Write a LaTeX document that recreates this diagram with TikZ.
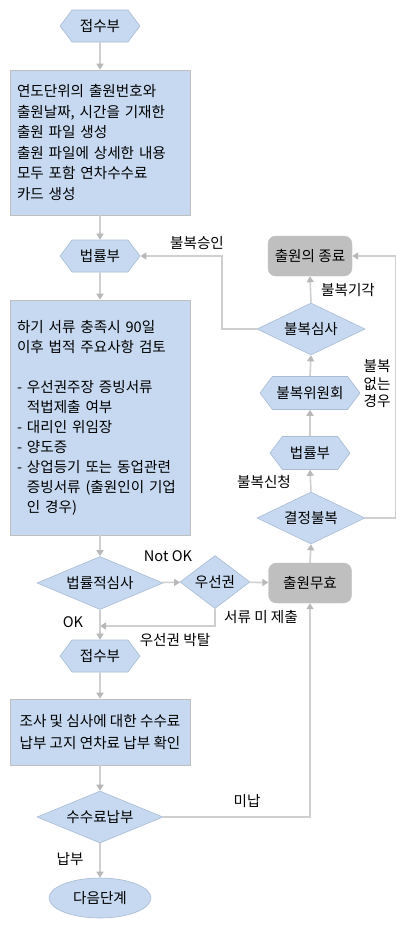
\documentclass[tikz,border=0pt]{standalone}
\usepackage{fontspec}
\setmainfont{Noto Sans CJK KR}
\usetikzlibrary{shapes.geometric,shapes.symbols,arrows.meta}
\definecolor{fillblue}{HTML}{C6D9F0}
\definecolor{edgeblue}{HTML}{A9BCD2}
\definecolor{boxgray}{HTML}{BFBFBF}
\definecolor{linegray}{HTML}{CFCFCF}
\definecolor{tipgray}{HTML}{B8B8B8}
\tikzset{
  base/.style={font=\fontsize{14.6}{20.5}\selectfont, text=black},
  hexa/.style={base, signal, signal to=east and west, signal pointer angle=106, fill=fillblue, draw=edgeblue, line width=0.6pt, minimum width=80pt, minimum height=32pt, inner sep=0pt},
  dia/.style={base, diamond, fill=fillblue, draw=edgeblue, line width=0.6pt, inner sep=0pt},
  procbox/.style={base, rectangle, fill=fillblue, draw=boxgray, line width=0.6pt, align=left, inner xsep=8pt},
  grbox/.style={base, rectangle, rounded corners=8pt, fill=boxgray, draw=boxgray, minimum width=84pt, minimum height=40pt},
  ell/.style={base, ellipse, fill=fillblue, draw=edgeblue, line width=0.6pt, minimum width=102pt, minimum height=40pt},
  conn/.style={draw=linegray, line width=1.6pt, -{Triangle[width=7pt,length=6pt,fill=tipgray,color=tipgray]}},
  lab/.style={base}
}
\begin{document}
\begin{tikzpicture}[x=1pt,y=-1pt]
\useasboundingbox[fill=white] (0,0) rectangle (400,930);
% main column
\node[hexa] (s1) at (100,26) {접수부};
\node[procbox, text width=166pt, minimum width=180pt, minimum height=145pt, inner xsep=7pt] (b1) at (100,142.5) {연도단위의 출원번호와\\출원날짜, 시간을 기재한\\출원 파일 생성\\출원 파일에 상세한 내용\\모두 포함 연차수수료\\카드 생성};
\node[hexa] (s2) at (100,256) {법률부};
\node[procbox, text width=166pt, minimum width=180pt, minimum height=235pt, inner xsep=7pt, font=\fontsize{14.6}{20}\selectfont] (b2) at (100,417.5) {하기 서류 충족시 90일\\이후 법적 주요사항 검토\\[20pt]- 우선권주장 증빙서류\\\phantom{- }적법제출 여부\\- 대리인 위임장\\- 양도증\\- 상업등기 또는 동업관련\\\phantom{- }증빙서류 (출원인이 기업\\\phantom{- }인 경우)};
\node[dia, aspect=2.4, minimum width=126pt, minimum height=53pt] (d1) at (100,583) {법률적심사};
\node[dia, aspect=1.3, minimum width=70pt, minimum height=53pt] (d2) at (215,582) {우선권};
\node[grbox, minimum width=83pt] (inv) at (310,583) {출원무효};
\node[hexa] (s3) at (100,656) {접수부};
\node[procbox, minimum width=180pt, minimum height=66pt, inner xsep=4pt, font=\fontsize{14.6}{22}\selectfont] (b3) at (100,732) {조사 및 심사에 대한 수수료\\납부 고지 연차료 납부 확인};
\node[dia, aspect=2.4, minimum width=126pt, minimum height=52pt] (d4) at (100,817) {수수료납부};
\node[ell] (fin) at (100,898) {다음단계};
% right column
\node[grbox] (end) at (310,256) {출원의 종료};
\node[dia, aspect=2.1, minimum width=108pt, minimum height=52pt] (rev) at (311,329) {불복심사};
\node[hexa, minimum width=100pt, minimum height=33pt] (com) at (310,393) {불복위원회};
\node[hexa, minimum height=33pt] (law) at (310,453) {법률부};
\node[dia, aspect=2.1, minimum width=108pt, minimum height=52pt] (obj) at (311,518) {결정불복};
\coordinate (j) at (100,626);
% connectors
\draw[conn] (s1) -- (b1);
\draw[conn] (b1) -- (s2);
\draw[conn] (s2) -- (b2);
\draw[conn] (b2) -- (d1);
\draw[conn] (d1) -- (d2);
\draw[conn] (d2) -- (inv);
\draw[conn] (d2.south) |- (j);
\draw[conn] (d1) -- (s3);
\draw[conn] (s3) -- (b3);
\draw[conn] (b3) -- (d4);
\draw[conn] (d4) -- (fin);
\draw[conn] (d4.east) -| (inv.south);
\draw[conn] (inv.north) -- (obj.south);
\draw[conn] (obj.north) -- (law.south);
\draw[conn] (law.north) -- (com.south);
\draw[conn] (com.north) -- (rev.south);
\draw[conn] (rev.north) -- (end.south);
\draw[conn] (rev.west) -- ++(-35,0) |- (s2.east);
\draw[conn] (obj.east) -- ++(30,0) |- (end.east);
% labels
\node[lab] (l1) at (168,556) {Not OK};
\node[lab] (l2) at (73,622) {OK};
\node[lab] (l3) at (261,617) {서류 미 제출};
\node[lab] (l4) at (175,640) {우선권 박탈};
\node[lab] (l5) at (247,801) {미납};
\node[lab] (l6) at (70,859) {납부};
\node[lab] (l7) at (197,243) {불복승인};
\node[lab] (l8) at (348,290) {불복기각};
\node[lab, align=center, font=\fontsize{14.6}{17.5}\selectfont] (l9) at (377,384) {불복\\없는\\경우};
\node[lab] (l10) at (264,482) {불복신청};
\end{tikzpicture}
\end{document}
